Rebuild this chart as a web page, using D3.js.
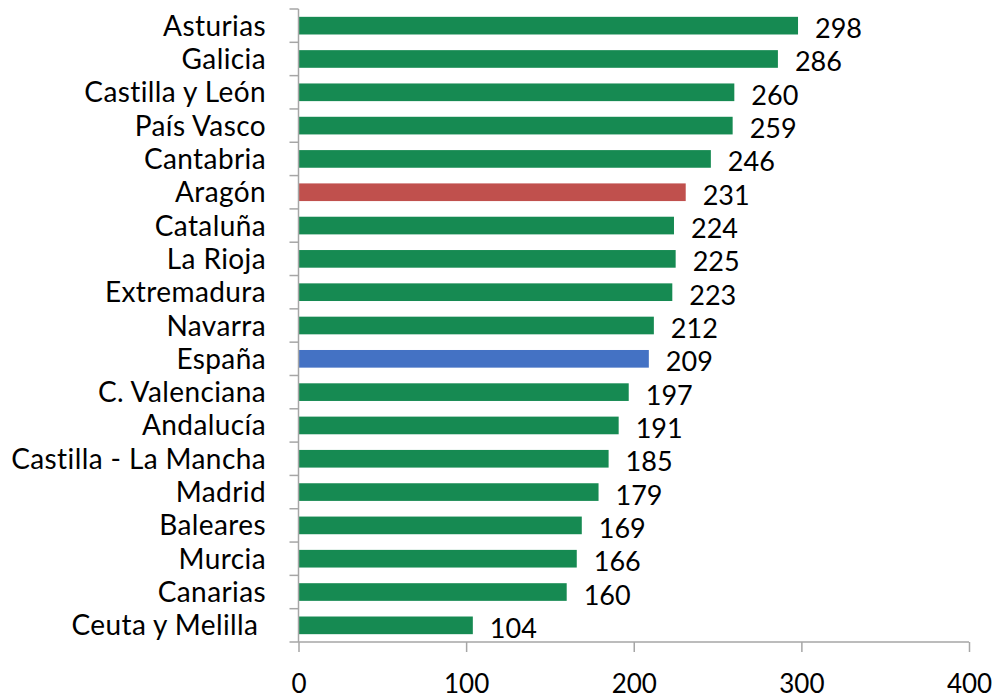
<!DOCTYPE html>
<html>
<head>
<meta charset="utf-8">
<script src="https://cdn.jsdelivr.net/npm/d3@7"></script>
<style>
	body { margin: 0; background: #fff; }
	text { font-family: Lato, "Open Sans", sans-serif; fill: #000; white-space: pre; font-variant-ligatures: none; }
</style>
</head>
<body>
<div id="chart"></div>
<script>
// Regions and their values
var regions = ['Asturias', 'Galicia', 'Castilla y León', 'País Vasco', 'Cantabria', 'Aragón',
	'Cataluña', 'La Rioja', 'Extremadura', 'Navarra', 'España', 'C. Valenciana', 'Andalucía',
	'Castilla - La Mancha', 'Madrid', 'Baleares', 'Murcia', 'Canarias', 'Ceuta y Melilla '];
var values = [298, 286, 260, 259, 246, 231, 224, 225, 223, 212, 209, 197, 191, 185, 179, 169, 166, 160, 104];
var xTicks = [0, 100, 200, 300, 400];

var width = 998,
	height = 699,
	margin = {top: 9, right: 29, bottom: 57, left: 298.5};

var colorFor = function(name) {
	if (name === 'Aragón') return '#c0504d';
	if (name === 'España') return '#4472c4';
	return '#168a52';
};

var svg = d3.select('#chart').append('svg')
	.attr('width', width)
	.attr('height', height);

var x = d3.scaleLinear()
	.domain([0, 400])
	.range([margin.left, width - margin.right]);

var y = d3.scaleBand()
	.domain(regions)
	.range([margin.top, height - margin.bottom])
	.paddingInner(0.47)
	.paddingOuter(0.235);

// Bars
svg.append('g').selectAll('rect')
	.data(values)
	.enter().append('rect')
	.attr('x', x(0))
	.attr('y', function(d, i) { return y(regions[i]); })
	.attr('width', function(d) { return x(d) - x(0); })
	.attr('height', y.bandwidth())
	.attr('fill', function(d, i) { return colorFor(regions[i]); });

// Value labels
svg.append('g').selectAll('text')
	.data(values)
	.enter().append('text')
	.attr('x', function(d) { return x(d) + 17; })
	.attr('y', function(d, i) { return y(regions[i]) + y.bandwidth() / 2 + 12.5; })
	.attr('font-size', 27)
	.text(function(d) { return d; });

// Category axis: line with ticks between the categories
var step = y.step();
var yAxis = svg.append('g').attr('stroke', '#a6a6a6').attr('stroke-width', 1.5);
yAxis.append('line')
	.attr('x1', x(0)).attr('x2', x(0))
	.attr('y1', margin.top).attr('y2', height - margin.bottom);
yAxis.selectAll('.tick')
	.data(d3.range(regions.length + 1))
	.enter().append('line')
	.attr('x1', x(0) - 9).attr('x2', x(0))
	.attr('y1', function(i) { return margin.top + i * step; })
	.attr('y2', function(i) { return margin.top + i * step; });

svg.append('g').selectAll('text')
	.data(regions)
	.enter().append('text')
	.attr('x', 266)
	.attr('y', function(d) { return y(d) + y.bandwidth() / 2 + 10; })
	.attr('text-anchor', 'end')
	.attr('font-size', 28)
	.attr('letter-spacing', 0.4)
	.text(function(d) { return d; });

// Value axis along the bottom
var xAxis = svg.append('g')
	.attr('transform', 'translate(0,' + (height - margin.bottom) + ')')
	.call(d3.axisBottom(x).tickValues(xTicks).tickSize(10).tickPadding(24));
xAxis.selectAll('path, line').attr('stroke', '#a6a6a6').attr('stroke-width', 1.5);
xAxis.select('.domain').attr('d', 'M' + x(0) + ',0H' + x(400));
xAxis.selectAll('text')
	.attr('y', 51)
	.attr('dy', null)
	.attr('font-size', 26)
	.attr('font-family', 'Lato, sans-serif')
	.attr('fill', '#000');
</script>
</body>
</html>
